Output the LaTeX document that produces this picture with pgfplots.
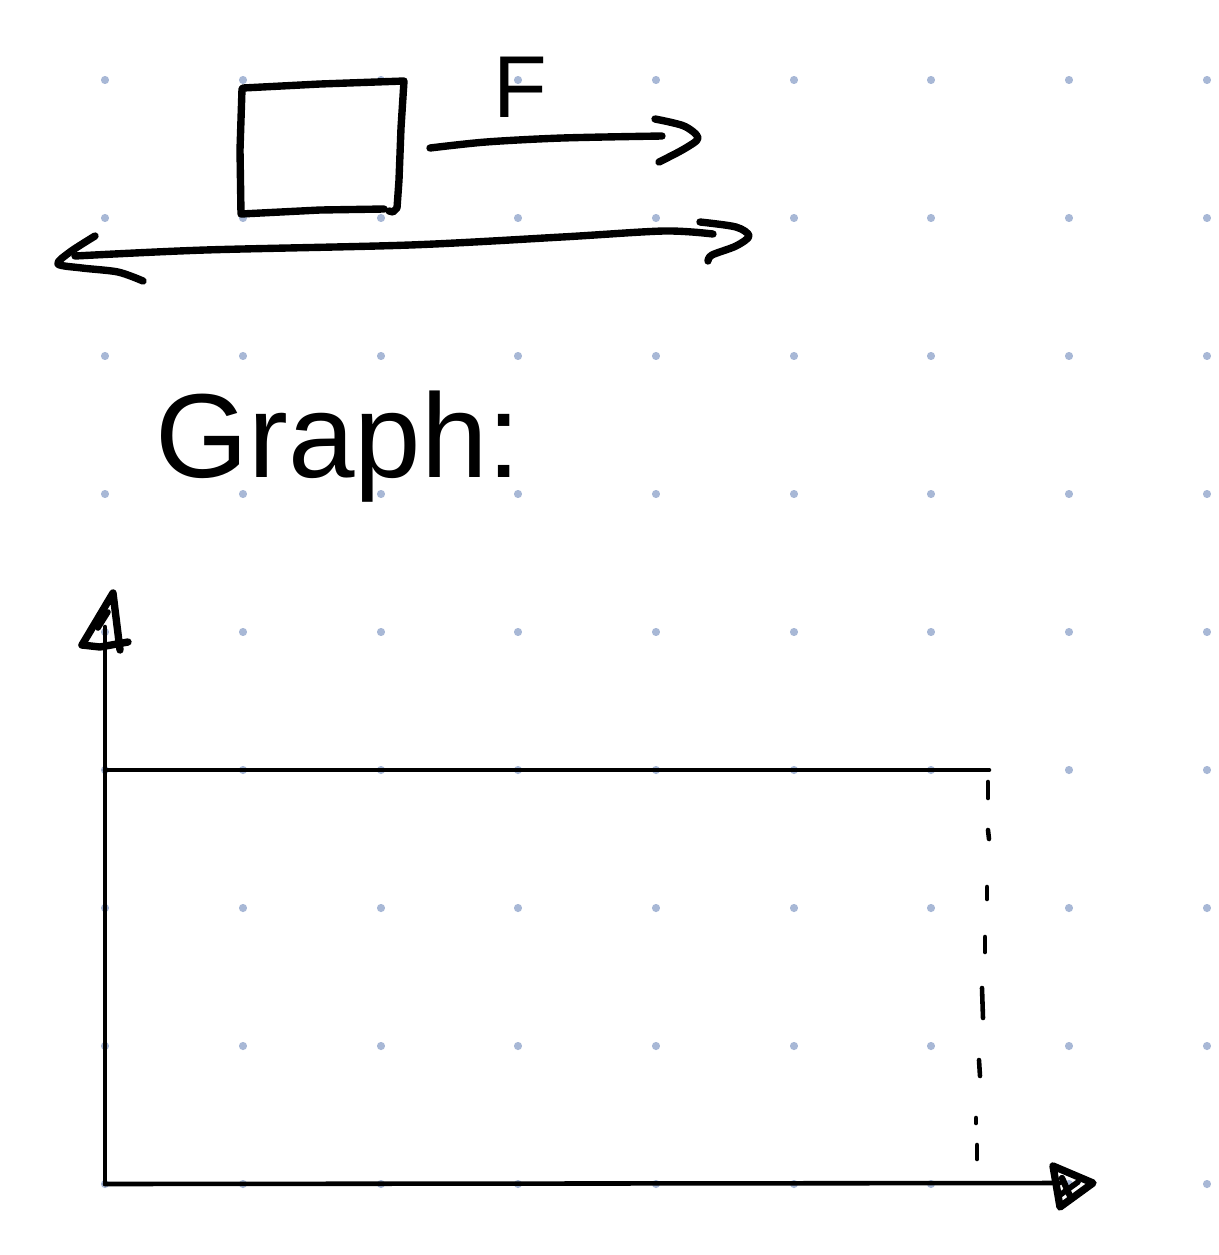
\documentclass[border=0pt]{standalone}
\usepackage{pgfplots}
\pgfplotsset{compat=1.18}
\usepackage{fontspec}
\setmainfont{Liberation Sans}
\definecolor{dotc}{HTML}{A8B8D6}
\begin{document}
\begin{tikzpicture}
\begin{axis}[
  scale only axis, width=12.19cm, height=12.55cm,
  xmin=0, xmax=1219, ymin=0, ymax=1255, y dir=reverse,
  hide axis, clip=false, clip marker paths=true,
  every axis plot/.append style={line cap=round, line join=round},
]
% invisible frame for bounding box
\addplot[draw=none] coordinates {(0,0) (1219,1255)};
% dot grid
\addplot[only marks, mark=*, mark size=0.95pt, color=dotc] table {
x y
105 80
243 80
381 80
518 80
656 80
794 80
931 80
1069 80
1207 80
105 218
243 218
381 218
518 218
656 218
794 218
931 218
1069 218
1207 218
105 356
243 356
381 356
518 356
656 356
794 356
931 356
1069 356
1207 356
105 494
243 494
381 494
518 494
656 494
794 494
931 494
1069 494
1207 494
105 632
243 632
381 632
518 632
656 632
794 632
931 632
1069 632
1207 632
105 770
243 770
381 770
518 770
656 770
794 770
931 770
1069 770
1207 770
105 908
243 908
381 908
518 908
656 908
794 908
931 908
1069 908
1207 908
105 1046
243 1046
381 1046
518 1046
656 1046
794 1046
931 1046
1069 1046
1207 1046
105 1184
243 1184
381 1184
518 1184
656 1184
794 1184
931 1184
1069 1184
1207 1184
};
% box
\addplot[black, line width=2.1pt] coordinates {(243,88) (320,84) (404,81) (401,128) (399,180) (397,208) (393,212) (389,211)};
\addplot[black, line width=2.1pt] coordinates {(242,89) (240,150) (241,214) (320,210) (384,209)};
% F arrow
\addplot[black, line width=2.1pt, smooth] coordinates {(430,148) (486,142) (562,138) (662,136)};
\addplot[black, line width=2.1pt, smooth] coordinates {(655,119) (684,126) (698,138) (684,149) (659,162)};
% double arrow
\addplot[black, line width=2.1pt, smooth] coordinates {(75,256) (205,250) (410,245) (562,237) (664,231) (713,234)};
\addplot[black, line width=2.1pt, smooth] coordinates {(95,236) (70,252) (58,264) (82,268) (118,272) (143,281)};
\addplot[black, line width=2.1pt, smooth] coordinates {(700,222) (736,227) (749,236) (736,246) (712,255) (708,261)};
% graph axes
\addplot[black, line width=1.3pt] coordinates {(105,1184) (105,627)};
\addplot[black, line width=1.3pt] coordinates {(105,1184) (1060,1183)};
\addplot[black, line width=2.1pt] coordinates {(82,645) (113,593) (120,650)};
\addplot[black, line width=2.1pt] coordinates {(82,645) (100,647) (128,642)};
\addplot[black, line width=1.6pt] coordinates {(98,628) (108,612)};
\addplot[black, line width=2.1pt] coordinates {(1053,1166) (1093,1183) (1060,1207) (1053,1166)};
\addplot[black, line width=1.8pt] coordinates {(1062,1178) (1070,1196)};
\addplot[black, line width=1.6pt] coordinates {(1060,1195) (1078,1182)};
% horizontal line
\addplot[black, line width=1.3pt] coordinates {(105,770) (989,770)};
% dashes
\addplot[black, line width=1.3pt] coordinates {(988,782) (988,798)};
\addplot[black, line width=1.3pt] coordinates {(988,830) (989,839)};
\addplot[black, line width=1.3pt] coordinates {(987,887) (987,899)};
\addplot[black, line width=1.3pt] coordinates {(985,937) (985,952)};
\addplot[black, line width=1.3pt] coordinates {(982,988) (983,1018)};
\addplot[black, line width=1.3pt] coordinates {(979,1060) (980,1076)};
\addplot[black, line width=1.3pt] coordinates {(976,1118) (976,1123)};
\addplot[black, line width=1.3pt] coordinates {(977,1145) (977,1159)};
% text
\node[anchor=base, inner sep=0pt, font=\fontsize{25}{28}\selectfont] at (axis cs:520,117) {F};
\node[anchor=base west, inner sep=0pt, font=\fontsize{34}{40}\selectfont] at (axis cs:155,477) {Graph:};
\end{axis}
\end{tikzpicture}
\end{document}
